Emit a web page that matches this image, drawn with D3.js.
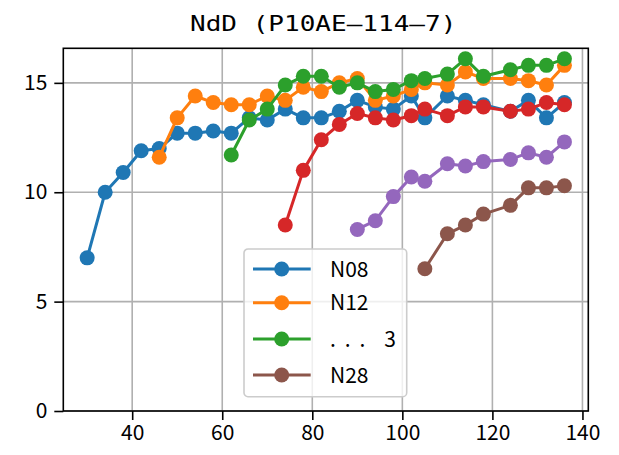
<!DOCTYPE html>
<html>
<head>
<meta charset="utf-8">
<script src="https://cdn.jsdelivr.net/npm/d3@7"></script>
<style>
    body { margin: 0; background: #fff; }
    svg { display: block; font-family: "Noto Sans CJK JP", sans-serif; }
</style>
</head>
<body>
<svg id="chart" width="619" height="455"></svg>
<script>
const titleText = "NdD (P10AE–114–7)"

const xTicks = [40, 60, 80, 100, 120, 140]
const yTicks = [0, 5, 10, 15]

const n08X = [30, 34, 38, 42, 46, 50, 54, 58, 62, 66, 70, 74, 78, 82, 86, 90, 94, 98, 102, 105, 110, 114, 118, 124, 128, 132, 136]
const n08Y = [7.0, 10.0, 10.9, 11.9, 12.0, 12.7, 12.7, 12.8, 12.7, 13.4, 13.3, 13.8, 13.4, 13.4, 13.7, 14.2, 13.9, 13.8, 14.4, 13.4, 14.4, 14.2, 14.0, 13.7, 14.2, 13.4, 14.1]

const n12X = [46, 50, 54, 58, 62, 66, 70, 74, 78, 82, 86, 90, 94, 98, 102, 105, 110, 114, 118, 124, 128, 132, 136]
const n12Y = [11.6, 13.4, 14.4, 14.1, 14.0, 14.0, 14.4, 14.2, 14.8, 14.6, 15.0, 15.2, 14.2, 14.4, 14.7, 15.0, 14.9, 15.5, 15.2, 15.2, 15.1, 14.9, 15.8]

const n20X = [62, 66, 70, 74, 78, 82, 86, 90, 94, 98, 102, 105, 110, 114, 118, 124, 128, 132, 136]
const n20Y = [11.7, 13.3, 13.8, 14.9, 15.3, 15.3, 14.8, 15.0, 14.6, 14.7, 15.1, 15.2, 15.4, 16.1, 15.3, 15.6, 15.8, 15.8, 16.1]

const n22X = [74, 78, 82, 86, 90, 94, 98, 102, 105, 110, 114, 118, 124, 128, 132, 136]
const n22Y = [8.5, 11.0, 12.4, 13.1, 13.6, 13.4, 13.3, 13.5, 13.8, 13.5, 13.9, 13.9, 13.7, 13.8, 14.1, 14.0]

const n25X = [90, 94, 98, 102, 105, 110, 114, 118, 124, 128, 132, 136]
const n25Y = [8.3, 8.7, 9.8, 10.7, 10.5, 11.3, 11.2, 11.4, 11.5, 11.8, 11.6, 12.3]

const n28X = [105, 110, 114, 118, 124, 128, 132, 136]
const n28Y = [6.5, 8.1, 8.5, 9.0, 9.4, 10.2, 10.2, 10.3]

const seriesNames = ["N08", "N12", ". \u2009. \u2009.    3", "N22", "N25", "N28"]
const seriesColors = ["#1f77b4", "#ff7f0e", "#2ca02c", "#d62728", "#9467bd", "#8c564b"]
const legendShown = [true, true, true, false, false, true]

const margin = { left: 63.3, right: 30.7, top: 48.3, bottom: 44 }
const width = 619, height = 455
const dotRadius = 7.5

var series = [
    [n08X, n08Y], [n12X, n12Y], [n20X, n20Y], [n22X, n22Y], [n25X, n25Y], [n28X, n28Y]
].map(function (s, i) {
    return {
        name: seriesNames[i],
        color: seriesColors[i],
        legend: legendShown[i],
        points: s[0].map(function (x, j) { return { x: x, y: s[1][j] } })
    }
})

var svg = d3.select("#chart")

var x = d3.scaleLinear().domain([24.7, 141.3]).range([margin.left, width - margin.right])
var y = d3.scaleLinear().domain([0, 16.58]).range([height - margin.bottom, margin.top])

// grid
var grid = svg.append("g").attr("class", "grid")
grid.selectAll(".gx").data(xTicks).enter().append("line")
    .attr("x1", d => x(d)).attr("x2", d => x(d))
    .attr("y1", y.range()[0]).attr("y2", y.range()[1])
    .attr("stroke", "#b0b0b0").attr("stroke-width", 1.6)
grid.selectAll(".gy").data(yTicks).enter().append("line")
    .attr("x1", x.range()[0]).attr("x2", x.range()[1])
    .attr("y1", d => y(d)).attr("y2", d => y(d))
    .attr("stroke", "#b0b0b0").attr("stroke-width", 1.6)

// lines and markers
var line = d3.line().x(d => x(d.x)).y(d => y(d.y))

var plot = svg.append("g").attr("class", "series")
series.forEach(function (s) {
    var g = plot.append("g")
    g.append("path")
        .datum(s.points)
        .attr("d", line)
        .attr("fill", "none")
        .attr("stroke", s.color)
        .attr("stroke-width", 3)
        .attr("stroke-linejoin", "round")
    g.selectAll("circle").data(s.points).enter().append("circle")
        .attr("cx", d => x(d.x))
        .attr("cy", d => y(d.y))
        .attr("r", dotRadius)
        .attr("fill", s.color)
})

// axes
var xAxis = svg.append("g")
    .attr("transform", "translate(0," + y.range()[0] + ")")
    .call(d3.axisBottom(x).tickValues(xTicks).tickSize(9).tickPadding(5).tickSizeOuter(0))
var yAxis = svg.append("g")
    .attr("transform", "translate(" + x.range()[0] + ",0)")
    .call(d3.axisLeft(y).tickValues(yTicks).tickSize(9).tickPadding(7).tickSizeOuter(0))

;[xAxis, yAxis].forEach(function (a) {
    a.select(".domain").remove()
    a.selectAll(".tick line").attr("stroke", "#000").attr("stroke-width", 1.6)
    a.selectAll(".tick text")
        .attr("fill", "#000")
        .attr("font-size", 21)
        .attr("font-family", "Noto Sans CJK JP, sans-serif")
})

// frame
svg.append("rect")
    .attr("x", x.range()[0]).attr("y", y.range()[1])
    .attr("width", x.range()[1] - x.range()[0])
    .attr("height", y.range()[0] - y.range()[1])
    .attr("fill", "none")
    .attr("stroke", "#000")
    .attr("stroke-width", 1.6)

// title - monospace gothic look, stretched wide
svg.append("text")
    .attr("transform", "translate(190,31) scale(1.24,1)")
    .attr("font-family", "DejaVu Sans Mono, monospace")
    .attr("font-size", 21)
    .attr("fill", "#000")
    .text(titleText)

// legend
var legendItems = series.filter(s => s.legend)
var legend = svg.append("g").attr("transform", "translate(244,249)")
legend.append("rect")
    .attr("width", 162.7).attr("height", 147.7)
    .attr("rx", 4).attr("ry", 4)
    .attr("fill", "#fff").attr("fill-opacity", 0.8)
    .attr("stroke", "#cccccc").attr("stroke-width", 1.6)

var rowY = [20, 53.7, 90, 126]
var rows = legend.selectAll(".row").data(legendItems).enter().append("g")
    .attr("transform", (d, i) => "translate(0," + rowY[i] + ")")
rows.append("line")
    .attr("x1", 9).attr("x2", 66.7)
    .attr("stroke", d => d.color).attr("stroke-width", 3)
rows.append("circle")
    .attr("cx", 37.7).attr("r", dotRadius)
    .attr("fill", d => d.color)
rows.append("text")
    .attr("x", 86).attr("y", 7.5)
    .attr("font-size", 21)
    .attr("fill", "#000")
    .style("white-space", "pre")
    .text(d => d.name)
</script>
</body>
</html>
